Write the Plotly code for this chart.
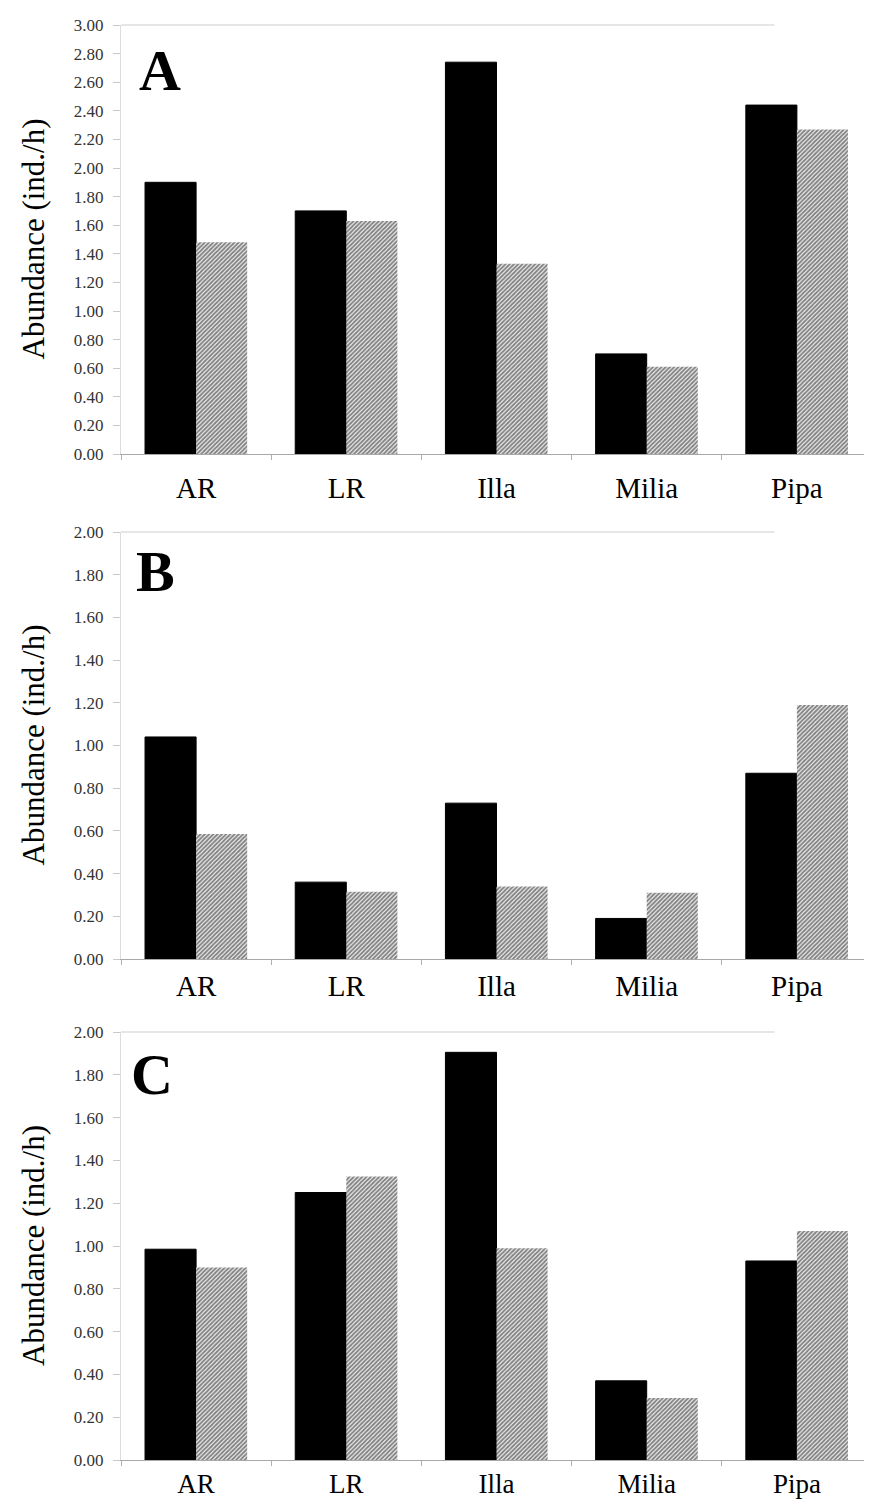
import plotly.graph_objects as go

# ---- data ----
sites = ["AR", "LR", "Illa", "Milia", "Pipa"]
a_black = [1.90, 1.70, 2.74, 0.70, 2.44]
a_hatch = [1.48, 1.63, 1.33, 0.61, 2.27]
b_black = [1.04, 0.36, 0.73, 0.19, 0.87]
b_hatch = [0.585, 0.315, 0.34, 0.31, 1.19]
c_black = [0.985, 1.25, 1.905, 0.37, 0.93]
c_hatch = [0.90, 1.325, 0.99, 0.29, 1.07]
y_max = [3.0, 2.0, 2.0]
panel_letters = ["A", "B", "C"]
y_title = "Abundance (ind./h)"

OFF = 8  # page body margin
W, H = 872 - OFF, 1501 - OFF
FONT = "Times New Roman"

# reference pixel layout of plot areas (top, bottom)
panels_px = [(25, 454), (532, 959), (1032, 1460)]
x_left_px, x_right_px = 121, 872
letter_pos = [(160, 71), (155, 571), (152, 1074)]
cat_standoff = [8, 1, 0]
cat_size = [29, 29, 27]

fig = go.Figure()
series = [(a_black, a_hatch), (b_black, b_hatch), (c_black, c_hatch)]

for i, (blk, hat) in enumerate(series):
    n = "" if i == 0 else str(i + 1)
    fig.add_trace(go.Bar(
        x=sites, y=blk, xaxis="x" + n, yaxis="y" + n,
        marker=dict(color="black", line=dict(color="black", width=1)),
        offsetgroup="black", showlegend=False))
    fig.add_trace(go.Bar(
        x=sites, y=hat, xaxis="x" + n, yaxis="y" + n,
        marker=dict(color="white", line=dict(width=0),
                    pattern=dict(shape="/", fgcolor="#111111", bgcolor="#eeeeee",
                                 size=3, solidity=0.6)),
        offsetgroup="hatch", showlegend=False))

layout = dict(
    width=W, height=H,
    margin=dict(l=0, r=0, t=0, b=0, autoexpand=False),
    paper_bgcolor="white", plot_bgcolor="white",
    barmode="group", bargap=0.32, bargroupgap=0,
    showlegend=False,
    font=dict(family=FONT, color="black"),
)

def px_x(p):
    return (p - OFF) / W

def px_y(p):
    return 1 - (p - OFF) / H

annotations = []
shapes = []
for i, (top, bot) in enumerate(panels_px):
    n = "" if i == 0 else str(i + 1)
    layout["xaxis" + n] = dict(
        domain=[px_x(x_left_px), min(1.0, px_x(x_right_px))], anchor="y" + n,
        type="category", range=[-0.5, 4.5],
        showline=True, linecolor="#a8a8a8", linewidth=1,
        ticks="outside", tickson="boundaries", ticklen=5, tickcolor="#b0b0b0",
        ticklabelstandoff=cat_standoff[i],
        tickfont=dict(family=FONT, size=cat_size[i], color="black"),
        showgrid=False, zeroline=False, automargin=False,
    )
    layout["yaxis" + n] = dict(
        domain=[px_y(bot), px_y(top)], anchor="x" + n,
        range=[0, y_max[i]], dtick=0.2, tick0=0, tickformat=".2f",
        showline=True, linecolor="#dcdcdc", linewidth=1,
        ticks="outside", ticklen=7, tickcolor="#c8c8c8",
        ticklabelstandoff=6,
        tickfont=dict(family=FONT, size=17, color="#333333"),
        showgrid=False, zeroline=False, automargin=False,
    )
    shapes.append(dict(type="line", xref="x" + n + " domain", yref="y" + n + " domain",
                       x0=0, x1=0.87, y0=1, y1=1,
                       line=dict(color="#e6e6e6", width=2)))
    annotations.append(dict(
        text=y_title, xref="paper", yref="paper",
        x=px_x(33), y=px_y((top + bot) / 2), textangle=-90,
        showarrow=False, font=dict(family=FONT, size=31, color="black"),
        xanchor="center", yanchor="middle"))
    lx, ly = letter_pos[i]
    annotations.append(dict(
        text="<b>" + panel_letters[i] + "</b>", xref="paper", yref="paper",
        x=px_x(lx), y=px_y(ly), showarrow=False,
        font=dict(family=FONT, size=58, color="black"),
        xanchor="center", yanchor="middle"))

layout["annotations"] = annotations
layout["shapes"] = shapes
fig.update_layout(**layout)

fig.write_html("out.html")
